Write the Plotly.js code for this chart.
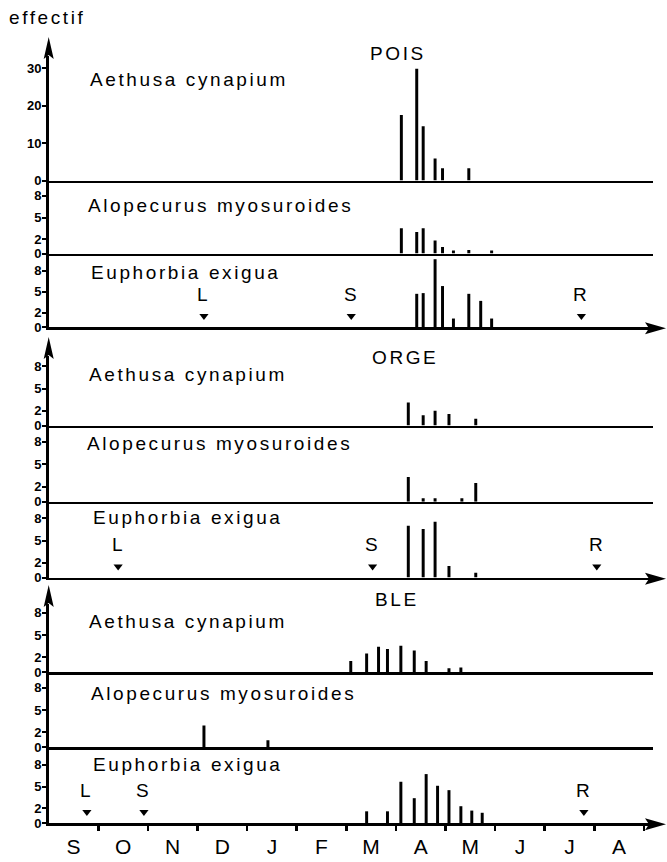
<!DOCTYPE html>
<html><head><meta charset="utf-8">
<script src="https://cdn.plot.ly/plotly-3.0.1.min.js"></script>
<style>
html,body{margin:0;padding:0;background:#fff;}
#chart{width:667px;height:862px;}
.annotation-text{letter-spacing:2.6px;}
</style></head>
<body><div id="chart"></div>
<script>
// x unit: months counted from 1 September (0) to 1 September of next year (12)
const monthLabels = ['S','O','N','D','J','F','M','A','M','J','J','A'];
const monthCenters = [0.5,1.5,2.5,3.5,4.5,5.5,6.5,7.5,8.5,9.5,10.5,11.5];
const monthBounds = [1,2,3,4,5,6,7,8,9,10,11,12];

const cropNames = ['POIS','ORGE','BLE'];
const speciesNames = ['Aethusa cynapium','Alopecurus myosuroides','Euphorbia exigua'];
const yTicksBig = [0,10,20,30];
const yTicksSmall = [0,2,5,8];

// POIS
const poisAethusaDates = [7.11,7.42,7.55,7.79,7.94,8.47];
const poisAethusaCounts = [17.5,29.8,14.5,5.9,3.3,3.3];
const poisAlopecurusDates = [7.11,7.42,7.55,7.79,7.94,8.16,8.47,8.93];
const poisAlopecurusCounts = [3.5,3.0,3.5,1.8,0.9,0.4,0.5,0.4];
const poisEuphorbiaDates = [7.42,7.55,7.79,7.94,8.16,8.47,8.71,8.93];
const poisEuphorbiaCounts = [4.7,4.8,9.6,5.8,1.2,4.7,3.7,1.2];
// ORGE
const orgeAethusaDates = [7.25,7.55,7.79,8.07,8.61];
const orgeAethusaCounts = [3.1,1.4,2.0,1.55,0.9];
const orgeAlopecurusDates = [7.25,7.55,7.79,8.33,8.61];
const orgeAlopecurusCounts = [3.3,0.45,0.45,0.45,2.5];
const orgeEuphorbiaDates = [7.25,7.55,7.79,8.07,8.61];
const orgeEuphorbiaCounts = [7.0,6.55,7.55,1.55,0.65];
// BLE
const bleAethusaDates = [6.09,6.41,6.65,6.83,7.10,7.37,7.61,8.07,8.31];
const bleAethusaCounts = [1.5,2.5,3.4,3.1,3.55,2.9,1.5,0.5,0.6];
const bleAlopecurusDates = [3.13,4.42];
const bleAlopecurusCounts = [2.9,0.9];
const bleEuphorbiaDates = [6.41,6.83,7.10,7.37,7.61,7.84,8.07,8.31,8.53,8.74];
const bleEuphorbiaCounts = [1.6,1.6,5.65,3.4,6.7,5.1,4.5,2.3,1.7,1.4];

// crop events: L = labour, S = semis, R = récolte
const eventLabels = ['L','S','R'];
const poisEventDates = [3.13,6.10,10.74];
const orgeEventDates = [1.40,6.53,11.05];
const bleEventDates = [0.77,1.92,10.79];

// ---------- layout geometry ----------
const W = 667, H = 862;
const X0 = 48.7, X1 = 653, PX_PER_MONTH = 49.6;
const PX = p => p / W, PY = p => 1 - p / H;
const panels = [
  {top:56,   bottom:180.5, scale:3.75, ticks:yTicksBig,   label:[88,79]},
  {top:180.5,bottom:253.5, scale:7.2,  ticks:yTicksSmall, label:[86,205]},
  {top:253.5,bottom:327,   scale:7.06, ticks:yTicksSmall, label:[89,272.7]},
  {top:356,  bottom:425.5, scale:7.4,  ticks:yTicksSmall, label:[87,374]},
  {top:425.5,bottom:501.7, scale:7.5,  ticks:yTicksSmall, label:[85,443]},
  {top:501.7,bottom:577.5, scale:7.4,  ticks:yTicksSmall, label:[91,517]},
  {top:604,  bottom:672,   scale:7.4,  ticks:yTicksSmall, label:[87,621.7]},
  {top:672,  bottom:747,   scale:7.4,  ticks:yTicksSmall, label:[89,693]},
  {top:747,  bottom:823,   scale:7.3,  ticks:yTicksSmall, label:[91,764]}
];
const titlePos = [[398,53],[405,357],[397,599]];

const series = [
  [poisAethusaDates,poisAethusaCounts],[poisAlopecurusDates,poisAlopecurusCounts],[poisEuphorbiaDates,poisEuphorbiaCounts],
  [orgeAethusaDates,orgeAethusaCounts],[orgeAlopecurusDates,orgeAlopecurusCounts],[orgeEuphorbiaDates,orgeEuphorbiaCounts],
  [bleAethusaDates,bleAethusaCounts],[bleAlopecurusDates,bleAlopecurusCounts],[bleEuphorbiaDates,bleEuphorbiaCounts]
];
const eventDates = [poisEventDates, orgeEventDates, bleEventDates];

const sfx = i => (i === 0 ? '' : String(i + 1));
const xRange = [0, (X1 - X0) / PX_PER_MONTH];
const FONT = 'Liberation Sans, Arial, sans-serif';

const data = [];
const layout = {
  width: W, height: H,
  margin: {l:0, r:0, t:0, b:0},
  paper_bgcolor: '#fff', plot_bgcolor: 'rgba(0,0,0,0)',
  showlegend: false,
  font: {family: FONT, color: '#000'},
  annotations: [], shapes: []
};

series.forEach((s, i) => {
  data.push({type:'bar', x:s[0], y:s[1], width:0.06,
    xaxis:'x'+sfx(i), yaxis:'y'+sfx(i),
    marker:{color:'#000', line:{width:0}}, hoverinfo:'skip'});
  const p = panels[i];
  const xa = {domain:[PX(X0), PX(X1)], range:xRange, anchor:'y'+sfx(i),
    showline:true, linewidth:2.6, linecolor:'#000', showgrid:false, zeroline:false,
    showticklabels:false, ticks:'', fixedrange:true};
  if (i === 8) {
    Object.assign(xa, {showticklabels:true, tickmode:'array', tickvals:monthCenters, ticktext:monthLabels,
      tickfont:{family:FONT, size:21, color:'#000'}, ticklabelstandoff:3,
      minor:{tickmode:'array', tickvals:monthBounds, ticks:'outside', ticklen:5, tickwidth:2.5, tickcolor:'#000', showgrid:false}});
  }
  layout['xaxis'+sfx(i)] = xa;
  layout['yaxis'+sfx(i)] = {domain:[PY(p.bottom), PY(p.top)], range:[0,(p.bottom-p.top)/p.scale],
    anchor:'x'+sfx(i), showline:true, linewidth:2.6, linecolor:'#000', showgrid:false, zeroline:false,
    tickmode:'array', tickvals:p.ticks, ticks:'outside', ticklen:4, tickwidth:2, tickcolor:'#000',
    tickfont:{family:FONT, size:13, weight:'bold', color:'#000'}, ticklabelstandoff:-2, fixedrange:true};
  layout.annotations.push({xref:'paper', yref:'paper', x:PX(p.label[0]), y:PY(p.label[1]),
    xanchor:'left', yanchor:'middle', showarrow:false, text:speciesNames[i % 3],
    font:{family:FONT, size:19, color:'#000'}});
});

// crop titles, y arrows, x arrows, event markers
cropNames.forEach((name, c) => {
  layout.annotations.push({xref:'paper', yref:'paper', x:PX(titlePos[c][0]), y:PY(titlePos[c][1]),
    xanchor:'center', yanchor:'middle', showarrow:false, text:name, font:{family:FONT, size:19, color:'#000'}});
  const topP = panels[c*3], botP = panels[c*3+2];
  const tip = topP.top - 19;
  layout.shapes.push({type:'path', xref:'paper', yref:'paper', fillcolor:'#000', line:{width:0},
    path:`M${PX(X0)},${PY(tip)} L${PX(X0+5)},${PY(tip+22)} L${PX(X0)},${PY(tip+18)} L${PX(X0-5)},${PY(tip+22)} Z`});
  const b = botP.bottom + 1.2;
  layout.shapes.push({type:'path', xref:'paper', yref:'paper', fillcolor:'#000', line:{width:0},
    path:`M${PX(666)},${PY(b)} L${PX(645)},${PY(b-6)} L${PX(649)},${PY(b)} L${PX(645)},${PY(b+6)} Z`});
  layout.shapes.push({type:'line', xref:'paper', yref:'paper', x0:PX(X1-2), x1:PX(650), y0:PY(b), y1:PY(b),
    line:{color:'#000', width:2.6}});
  const k = c*3+2;
  const unitsPerPx = 1 / botP.scale;
  data.push({type:'scatter', mode:'markers', x:eventDates[c], y:eventDates[c].map(() => 11*unitsPerPx),
    xaxis:'x'+sfx(k), yaxis:'y'+sfx(k), marker:{symbol:'triangle-down', size:8, color:'#000'}, hoverinfo:'skip', cliponaxis:false});
  eventDates[c].forEach((d, j) => {
    layout.annotations.push({xref:'x'+sfx(k), yref:'y'+sfx(k), x:d, y:33*unitsPerPx,
      xanchor:'center', yanchor:'middle', showarrow:false, text:eventLabels[j],
      font:{family:FONT, size:19, color:'#000'}});
  });
});

layout.annotations.push({xref:'paper', yref:'paper', x:PX(7), y:PY(18), xanchor:'left', yanchor:'middle',
  showarrow:false, text:'effectif', font:{family:FONT, size:19, color:'#000'}});

Plotly.newPlot('chart', data, layout, {staticPlot:true, displayModeBar:false});
</script></body></html>
